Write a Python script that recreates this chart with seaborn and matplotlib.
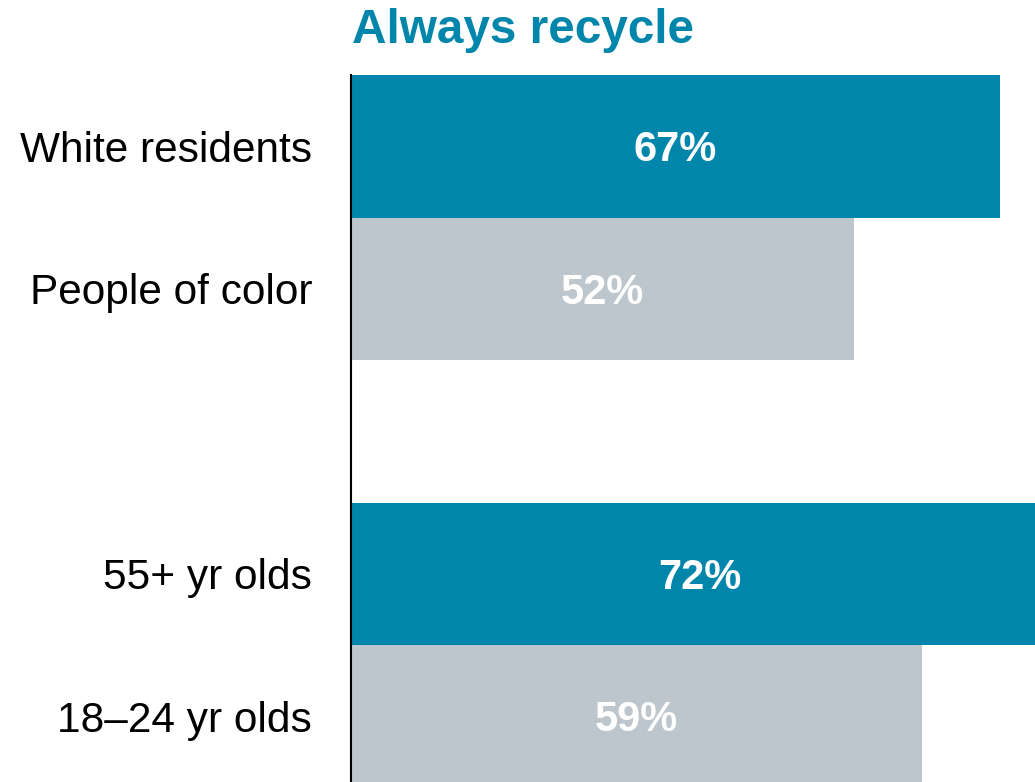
import matplotlib
matplotlib.use("Agg")
import matplotlib.pyplot as plt
import seaborn as sns
import pandas as pd

# Share of residents who always recycle, by group
groups = ["White residents", "People of color", "55+ yr olds", "18–24 yr olds"]
values = [67, 52, 72, 59]
tones = ["highlight", "base", "highlight", "base"]
# Row order with an empty spacer row between the two comparisons
row_order = ["White residents", "People of color", " ", "55+ yr olds", "18–24 yr olds"]

TEAL = "#0085AB"
GRAY = "#BCC6CC"

sns.set_theme(style="white")
plt.rcParams["font.family"] = ["Liberation Sans", "DejaVu Sans"]

df = pd.DataFrame({"group": groups, "value": values, "tone": tones})

fig = plt.figure(figsize=(10.35, 7.82), dpi=100)
ax = fig.add_axes([351 / 1035, 0.0, 1 - 351 / 1035, 1 - 75 / 782])

sns.barplot(
    data=df, x="value", y="group", hue="tone", order=row_order,
    palette={"highlight": TEAL, "base": GRAY}, dodge=False, width=1.0,
    legend=False, saturation=1.0, linewidth=0, edgecolor="none", ax=ax,
)

# Value labels centred inside each bar
for g, v in zip(groups, values):
    row = row_order.index(g)
    ax.text(v / 2, row + 0.105, f"{v}%", color="white", fontsize=30,
            fontweight="bold", ha="center", va="baseline")

ax.set_xlim(0, 70.65)
ax.set_ylim(-0.5 + 707 / 142.5, -0.5)
ax.set_xlabel("")
ax.set_ylabel("")
ax.set_xticks([])
ax.tick_params(axis="y", length=0, pad=28, labelsize=30.5, labelcolor="black")
for side in ["top", "right", "bottom"]:
    ax.spines[side].set_visible(False)
ax.spines["left"].set_color("black")
ax.spines["left"].set_linewidth(1.5)
ax.spines["left"].set_zorder(5)

fig.text(352 / 1035, 1 - 43 / 782, "Always recycle", color=TEAL,
         fontsize=34.4, fontweight="bold", ha="left", va="baseline")

fig.savefig("out.png", dpi=100, facecolor="white")
